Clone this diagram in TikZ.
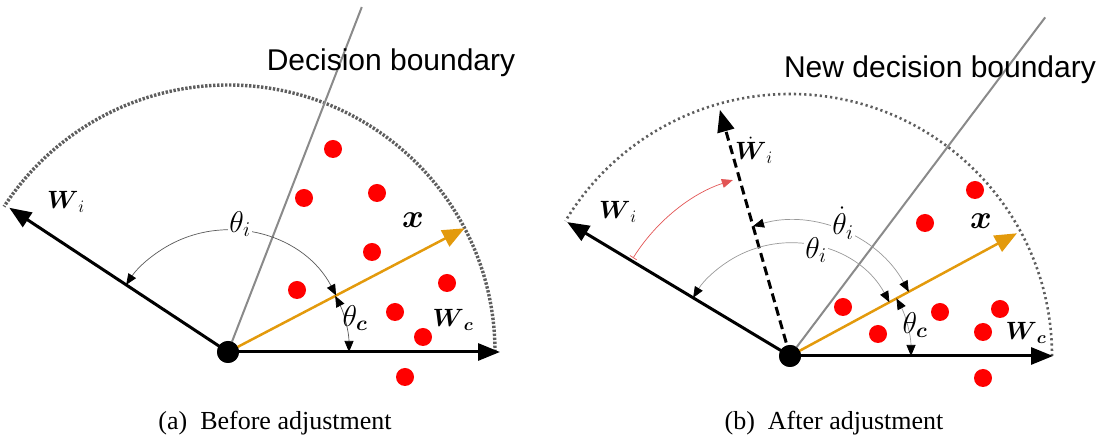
\RequirePackage{fix-cm}
\documentclass[tikz,border=0pt]{standalone}
\usepackage{amsmath,amssymb}
\usepackage{fontspec}
\setmainfont{Liberation Serif}
\newfontfamily\boundfont{Liberation Sans}
\usetikzlibrary{arrows.meta}
\definecolor{ink}{HTML}{000000}
\definecolor{hullgray}{HTML}{5E5E5E}
\definecolor{bound}{HTML}{8A8A8A}
\definecolor{xorange}{HTML}{E39A0C}
\definecolor{ptred}{HTML}{FF0000}
\definecolor{moved}{HTML}{E25555}
\tikzset{
  vec/.style={-{Triangle[length=22pt,width=17pt]},draw=ink,line width=3pt},
  vecd/.style={vec,dash pattern=on 9pt off 5pt},
  vecx/.style={-{Triangle[length=22pt,width=18pt]},draw=xorange,line width=2.5pt},
  bnd/.style={draw=bound,line width=2pt},
  hull/.style={draw=hullgray,line width=3.4pt,dash pattern=on 2.4pt off 1.6pt},
  hullb/.style={draw=hullgray,line width=2.6pt,dash pattern=on 2.2pt off 3pt},
  ang/.style={{Triangle[length=11pt,width=9pt,color=ink]}-{Triangle[length=11pt,width=9pt,color=ink]},draw=ink!65,line width=.7pt},
  angr/.style={{Bar[width=8pt]}-{Triangle[length=11pt,width=9pt]},draw=moved,line width=.7pt},
  pt/.style={circle,fill=ptred,minimum size=18pt,inner sep=0pt},
  org/.style={circle,fill=ink,minimum size=22pt,inner sep=0pt},
  lab/.style={font=\fontsize{25}{29}\selectfont,inner sep=0pt},
  labt/.style={font=\fontsize{30}{34}\selectfont,inner sep=0pt},
  labx/.style={font=\fontsize{33}{37}\selectfont,inner sep=0pt},
  bndlab/.style={font=\boundfont\fontsize{30}{34}\selectfont,inner sep=0pt},
  captxt/.style={font=\fontsize{26}{30}\selectfont,inner sep=0pt},
}
\begin{document}
\begin{tikzpicture}[x=1pt,y=1pt]
  \useasboundingbox (0,0) rectangle (1102,435);
  % ── before adjustment ──
  \begin{scope}[shift={(228,83)}]
    \draw[hull] (0:267) arc[start angle=0,end angle=147,radius=267];
    \foreach \px/\py [count=\i] in {105/203,76/154,149/159,144/100,69/62,219/69,167/40,195/15,177/-25}
      \node[pt] (ap\i) at (\px,\py) {};
    \node[org] (ao) at (0,0) {};
    \coordinate (awc) at (0:272);
    \coordinate (awi) at (146.6:262);
    \coordinate (ax) at (27.6:267);
    \coordinate (abd) at (68.8:370);
    \draw[bnd] (ao.center) -- (abd);
    \draw[vecx] (ao.center) -- (ax);
    \draw[vec] (ao.center) -- (awc);
    \draw[vec] (ao.center) -- (awi);
    \fill[ink] (ao) circle[radius=11pt];
    \draw[ang] (27.6:122) arc[start angle=27.6,end angle=146.6,radius=122];
    \draw[ang] (27.6:121) arc[start angle=27.6,end angle=0,radius=121];
    \node[bndlab] (abl) at (163,289) {Decision boundary};
    \node[lab] (alwi) at (-162,150) {$\boldsymbol{W}_i$};
    \node[labt,fill=white,inner sep=1pt] (alti) at (12,128) {$\theta_i$};
    \node[labx] (alx) at (185,132) {$\boldsymbol{x}$};
    \node[labt] (altc) at (127,34) {$\theta_{\boldsymbol{c}}$};
    \node[lab] (alwc) at (225,32) {$\boldsymbol{W}_{\boldsymbol{c}}$};
    \node[captxt] (acap) at (47,-71) {(a)\hspace{0.5em}Before adjustment};
  \end{scope}
  % ── after adjustment ──
  \begin{scope}[shift={(790,79)}]
    \draw[hullb] (0:262) arc[start angle=0,end angle=149,radius=262];
    \foreach \px/\py [count=\i] in {185/166,135/133,53/49,88/22,150/44,210/47,193/24,193/-22}
      \node[pt] (bp\i) at (\px,\py) {};
    \node[org] (bo) at (0,0) {};
    \coordinate (bwc) at (0:263);
    \coordinate (bwi) at (149:260);
    \coordinate (bwn) at (105.9:256);
    \coordinate (bx) at (28.4:258);
    \coordinate (bbd) at (53:424);
    \draw[bnd] (bo.center) -- (bbd);
    \draw[vecx] (bo.center) -- (bx);
    \draw[vec] (bo.center) -- (bwc);
    \draw[vec] (bo.center) -- (bwi);
    \draw[vecd] (bo.center) -- (bwn);
    \fill[ink] (bo) circle[radius=11pt];
    \draw[angr] (148:185) arc[start angle=148,end angle=108,radius=185];
    \draw[ang,draw=ink!40] (28.4:113) arc[start angle=28.4,end angle=149,radius=113];
    \draw[ang,draw=ink!40] (28.4:135) arc[start angle=28.4,end angle=105.9,radius=135];
    \draw[ang,draw=ink!40] (28.4:121) arc[start angle=28.4,end angle=0,radius=121];
    \node[bndlab] (bbl) at (150,286) {New decision boundary};
    \node[lab] (blwi) at (-172,144) {$\boldsymbol{W}_i$};
    \node[lab] (blwn) at (-36,206) {$\dot{\boldsymbol{W}}_i$};
    \node[labt,fill=white,inner sep=1pt] (blti) at (26,106) {$\theta_i$};
    \node[labt,fill=white,inner sep=1pt] (bltn) at (53,133) {$\dot{\theta}_i$};
    \node[labx] (blx) at (191,135) {$\boldsymbol{x}$};
    \node[labt] (bltc) at (125,31) {$\theta_{\boldsymbol{c}}$};
    \node[lab] (blwc) at (236,23) {$\boldsymbol{W}_{\boldsymbol{c}}$};
    \node[captxt] (bcap) at (44,-67) {(b)\hspace{0.5em}After adjustment};
  \end{scope}
\end{tikzpicture}
\end{document}
